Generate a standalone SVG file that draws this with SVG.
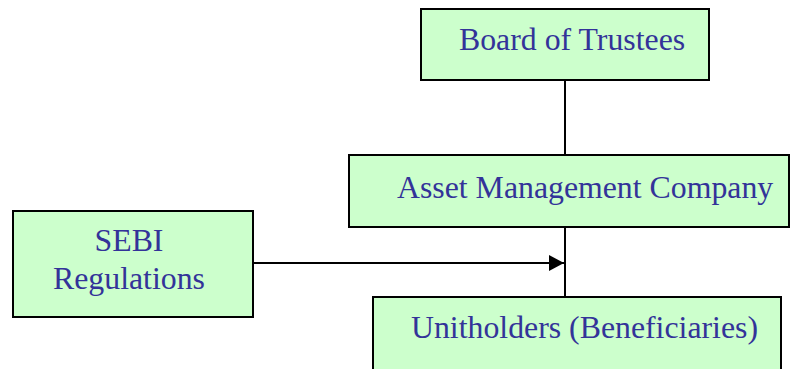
<svg xmlns="http://www.w3.org/2000/svg" width="791" height="369" viewBox="0 0 791 369">
<style>
.box{fill:#CCFFCC;stroke:#000;stroke-width:2}
.t{font-family:"Liberation Serif",serif;font-size:31.8px;fill:#333399}
.c{stroke:#000;stroke-width:2;fill:none}
</style>
<defs>
<marker id="ah" markerWidth="16" markerHeight="16" refX="15" refY="8" orient="auto" markerUnits="userSpaceOnUse" viewBox="0 0 16 16">
<path d="M0,0 L15,8 L0,16 z" fill="#000"/>
</marker>
</defs>
<g id="connectors">
<line class="c" x1="565" y1="80" x2="565" y2="155"/>
<line class="c" x1="565" y1="227" x2="565" y2="297"/>
<line class="c" x1="253" y1="263" x2="564" y2="263" marker-end="url(#ah)"/>
</g>
<g id="board">
<rect class="box" x="421" y="9" width="288" height="71"/>
<text class="t" x="459" y="50">Board of Trustees</text>
</g>
<g id="amc">
<rect class="box" x="349" y="155" width="440" height="72"/>
<text class="t" x="397" y="198">Asset Management Company</text>
</g>
<g id="sebi">
<rect class="box" x="13" y="211" width="240" height="106"/>
<text class="t" x="129" y="251" text-anchor="middle">SEBI</text>
<text class="t" x="129" y="289" text-anchor="middle">Regulations</text>
</g>
<g id="unitholders">
<rect class="box" x="373" y="297" width="408" height="80"/>
<text class="t" x="411" y="338">Unitholders (Beneficiaries)</text>
</g>
</svg>
